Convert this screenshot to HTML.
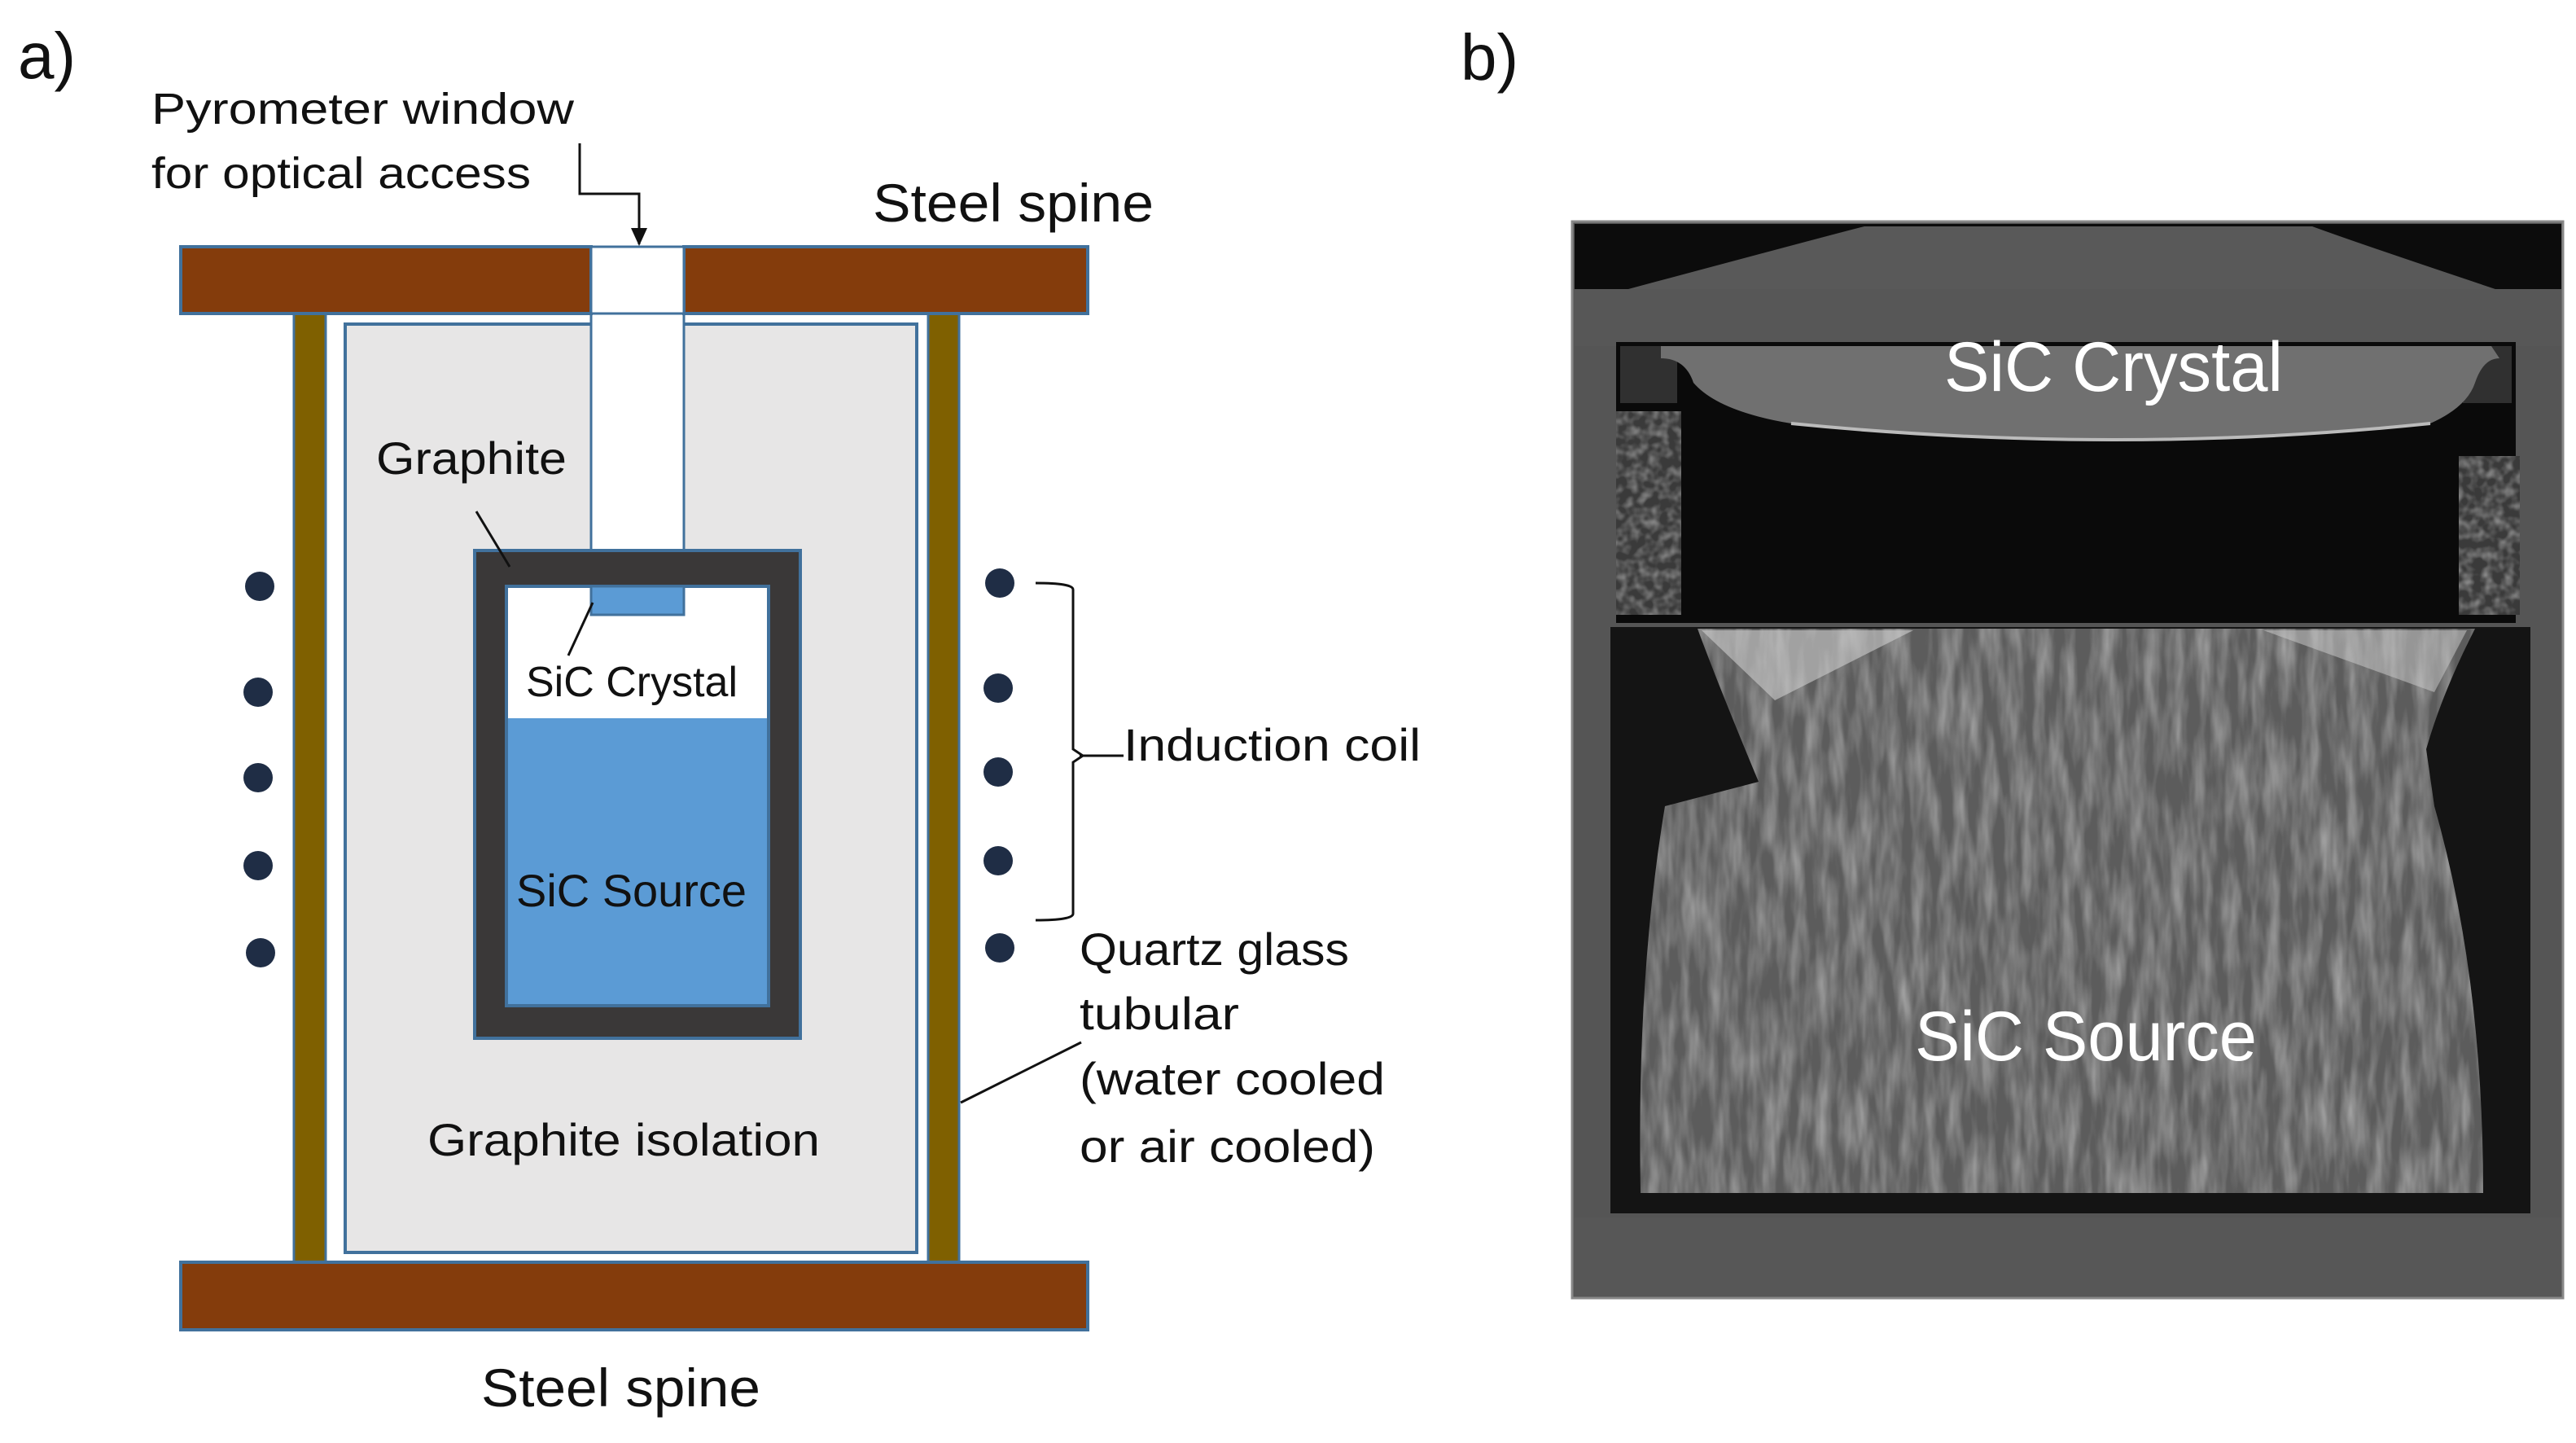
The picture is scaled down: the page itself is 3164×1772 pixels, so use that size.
<!DOCTYPE html>
<html><head><meta charset="utf-8"><style>
html,body{margin:0;padding:0;background:#fff}
svg{display:block}
text{font-family:"Liberation Sans",sans-serif;fill:#111}
</style></head><body>
<svg width="3164" height="1772" viewBox="0 0 3164 1772" xmlns="http://www.w3.org/2000/svg">
<defs>
<filter id="noise" x="0" y="0" width="100%" height="100%">
<feTurbulence type="fractalNoise" baseFrequency="0.06 0.012" numOctaves="3" seed="3"/>
<feColorMatrix type="matrix" values="0 0 0 0 0.5  0 0 0 0 0.5  0 0 0 0 0.5  0 0 0 1.2 -0.4"/>
<feComposite in2="SourceGraphic" operator="in"/>
</filter>
<filter id="noise2" x="0" y="0" width="100%" height="100%">
<feTurbulence type="fractalNoise" baseFrequency="0.08" numOctaves="2" seed="7"/>
<feColorMatrix type="matrix" values="0 0 0 0 0.5  0 0 0 0 0.5  0 0 0 0 0.5  0 0 0 1.2 -0.45"/>
<feComposite in2="SourceGraphic" operator="in"/>
</filter>
<marker id="arr" markerWidth="22" markerHeight="20" refX="20" refY="10" orient="auto" markerUnits="userSpaceOnUse"><path d="M0,0 L22,10 L0,20 z" fill="#111"/></marker>
</defs>

<text x="22" y="96" font-size="80">a)</text>

<rect x="424" y="398" width="702" height="1140" fill="#E7E6E6" stroke="#41719C" stroke-width="4"/>
<rect x="726" y="385" width="114" height="291" fill="#fff" stroke="#41719C" stroke-width="3"/>
<rect x="361" y="385" width="39" height="1165" fill="#7F6000" stroke="#41719C" stroke-width="3"/>
<rect x="1140" y="385" width="38" height="1165" fill="#7F6000" stroke="#41719C" stroke-width="3"/>
<rect x="222" y="303" width="504" height="82" fill="#843C0C" stroke="#41719C" stroke-width="4"/>
<rect x="840" y="303" width="496" height="82" fill="#843C0C" stroke="#41719C" stroke-width="4"/>
<rect x="726" y="303" width="114" height="82" fill="#fff" stroke="#41719C" stroke-width="3"/>
<rect x="222" y="1550" width="1114" height="83" fill="#843C0C" stroke="#41719C" stroke-width="4"/>
<rect x="583" y="676" width="400" height="599" fill="#3A3838" stroke="#41719C" stroke-width="4"/>
<rect x="622" y="720" width="322" height="515" fill="#5B9BD5" stroke="#41719C" stroke-width="4"/>
<rect x="624" y="722" width="318" height="160" fill="#fff"/>
<rect x="726" y="720" width="114" height="35" fill="#5B9BD5" stroke="#41719C" stroke-width="3"/>

<g fill="#1F2D45">
<circle cx="319" cy="720" r="18"/><circle cx="317" cy="850" r="18"/><circle cx="317" cy="955" r="18"/><circle cx="317" cy="1063" r="18"/><circle cx="320" cy="1170" r="18"/>
<circle cx="1228" cy="716" r="18"/><circle cx="1226" cy="845" r="18"/><circle cx="1226" cy="948" r="18"/><circle cx="1226" cy="1057" r="18"/><circle cx="1228" cy="1164" r="18"/>
</g>
<path d="M1272,716 Q1318,716 1318,724 L1318,920 L1330,928 L1318,936 L1318,1122 Q1318,1130 1272,1130" fill="none" stroke="#111" stroke-width="3"/>
<line x1="1326" y1="928" x2="1380" y2="928" stroke="#111" stroke-width="3"/>

<path d="M712,176 L712,238 L785,238 L785,300" fill="none" stroke="#111" stroke-width="3" marker-end="url(#arr)"/>
<line x1="585" y1="628" x2="626" y2="696" stroke="#111" stroke-width="3"/>
<line x1="728" y1="740" x2="698" y2="805" stroke="#111" stroke-width="3"/>
<line x1="1180" y1="1354" x2="1328" y2="1280" stroke="#111" stroke-width="3"/>

<text x="186" y="152" font-size="54" textLength="519" lengthAdjust="spacingAndGlyphs">Pyrometer window</text>
<text x="186" y="231" font-size="54" textLength="466" lengthAdjust="spacingAndGlyphs">for optical access</text>
<text x="1072" y="272" font-size="66" textLength="345" lengthAdjust="spacingAndGlyphs">Steel spine</text>
<text x="462" y="582" font-size="56" textLength="234" lengthAdjust="spacingAndGlyphs">Graphite</text>
<text x="646" y="855" font-size="52" textLength="260" lengthAdjust="spacingAndGlyphs">SiC Crystal</text>
<text x="634" y="1113" font-size="56" textLength="283" lengthAdjust="spacingAndGlyphs">SiC Source</text>
<text x="525" y="1419" font-size="56" textLength="482" lengthAdjust="spacingAndGlyphs">Graphite isolation</text>
<text x="1380" y="934" font-size="56" textLength="365" lengthAdjust="spacingAndGlyphs">Induction coil</text>
<text x="1326" y="1185" font-size="56" textLength="331" lengthAdjust="spacingAndGlyphs">Quartz glass</text>
<text x="1326" y="1264" font-size="56" textLength="196" lengthAdjust="spacingAndGlyphs">tubular</text>
<text x="1326" y="1344" font-size="56" textLength="375" lengthAdjust="spacingAndGlyphs">(water cooled</text>
<text x="1326" y="1427" font-size="56" textLength="363" lengthAdjust="spacingAndGlyphs">or air cooled)</text>
<text x="591" y="1727" font-size="66" textLength="343" lengthAdjust="spacingAndGlyphs">Steel spine</text>

<text x="1794" y="98" font-size="80">b)</text>
<g>
<rect x="1931" y="272" width="1217" height="1322" fill="#555"/>
<rect x="1931" y="272" width="1217" height="1322" fill="none" stroke="#888" stroke-width="3"/>
<rect x="1934" y="275" width="1212" height="130" fill="#0c0c0c"/>
<path d="M2000,355 Q2280,280 2290,278 L2840,278 Q2900,300 3080,360 Z" fill="#595959"/>
<rect x="1934" y="355" width="1212" height="70" fill="#575757"/>
<rect x="1985" y="420" width="1105" height="345" fill="#0a0a0a"/>
<rect x="1990" y="425" width="70" height="70" fill="#303030"/>
<rect x="3025" y="425" width="60" height="70" fill="#303030"/>
<path d="M2040,440 Q2070,440 2080,470 Q2110,505 2200,520 Q2600,560 2985,520 Q3030,500 3040,470 Q3050,440 3070,440 L3060,425 L2040,425 Z" fill="#707070"/>
<path d="M2200,520 Q2600,560 2985,520" fill="none" stroke="#bbb" stroke-width="4"/>
<rect x="1985" y="505" width="80" height="250" fill="#3a3a3a"/>
<rect x="1985" y="505" width="80" height="250" fill="#3a3a3a" filter="url(#noise2)"/>
<rect x="3020" y="560" width="75" height="195" fill="#3a3a3a"/>
<rect x="3020" y="560" width="75" height="195" fill="#3a3a3a" filter="url(#noise2)"/>
<rect x="1978" y="770" width="1130" height="720" fill="#141414"/>
<path d="M2085,772 L3040,772 Q3000,850 2980,920 L2990,990 Q3050,1200 3050,1465 L2015,1465 Q2010,1200 2045,990 L2160,960 Q2110,840 2085,772 Z" fill="#5c5c5c"/>
<path d="M2085,772 L3040,772 Q3000,850 2980,920 L2990,990 Q3050,1200 3050,1465 L2015,1465 Q2010,1200 2045,990 L2160,960 Q2110,840 2085,772 Z" fill="#6a6a6a" filter="url(#noise)"/>
<path d="M2090,774 L2350,774 L2180,860 Z" fill="#cfcfcf" opacity="0.6"/>
<path d="M2780,774 L3030,774 L2990,850 Z" fill="#cfcfcf" opacity="0.5"/>
<rect x="1934" y="1495" width="1212" height="96" fill="#575757"/>
<text x="2388" y="480" font-size="86" style="fill:#fff" textLength="416" lengthAdjust="spacingAndGlyphs">SiC Crystal</text>
<text x="2352" y="1302" font-size="86" style="fill:#fff" textLength="420" lengthAdjust="spacingAndGlyphs">SiC Source</text>
</g>
</svg>
</body></html>
